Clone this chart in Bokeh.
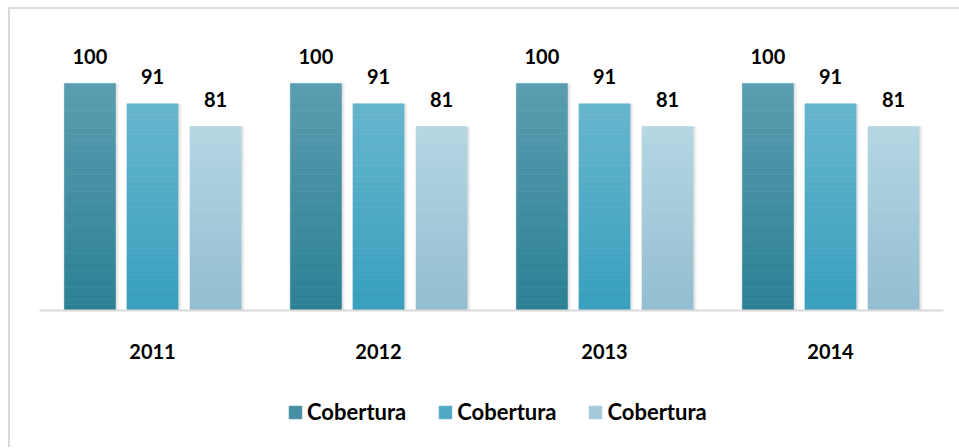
from bokeh.plotting import figure
from bokeh.models import (ColumnDataSource, FactorRange, Range1d, Legend, LegendItem)
from bokeh.layouts import column
from bokeh.transform import dodge
from bokeh.core.properties import value
from bokeh.embed import file_html
from bokeh.resources import INLINE

# ---- data ----
years = ["2011", "2012", "2013", "2014"]
series_names = ["Cobertura", "Cobertura", "Cobertura"]
serie1 = [100, 100, 100, 100]
serie2 = [91, 91, 91, 91]
serie3 = [81, 81, 81, 81]

# gradient colours (bottom, top) per series
grad = [((0x2c, 0x80, 0x94), (0x5a, 0x9d, 0xb0)),
        ((0x37, 0x9f, 0xbd), (0x66, 0xb5, 0xcd)),
        ((0x93, 0xbd, 0xd0), (0xb4, 0xd7, 0xe3))]
offsets = [-0.277, 0.0, 0.279]
bar_w = 0.226
N = 40

FONT = "Lato"

p = figure(x_range=FactorRange(*years, range_padding=0), y_range=Range1d(0, 123.3),
           width=949, height=371, output_backend="svg", toolbar_location=None,
           min_border_left=29, min_border_right=16, min_border_top=21, min_border_bottom=70)
p.outline_line_color = None
p.background_fill_color = "white"
p.border_fill_color = "white"
p.grid.visible = False
p.yaxis.visible = False

xa = p.xaxis[0]
xa.axis_line_color = "#d9d9d9"
xa.axis_line_width = 2
xa.major_tick_line_color = None
xa.minor_tick_line_color = None
xa.major_tick_out = 0
xa.major_label_standoff = 33
xa.major_label_text_font = FONT
xa.major_label_text_font_style = "bold"
xa.major_label_text_font_size = "20px"
xa.major_label_text_color = "#000000"

# legend strip below the chart
p2 = figure(x_range=Range1d(0, 1), y_range=Range1d(1000, 1001), width=949, height=67,
            output_backend="svg", toolbar_location=None,
            min_border_left=0, min_border_right=0, min_border_top=0, min_border_bottom=0)
p2.outline_line_color = None
p2.axis.visible = False
p2.grid.visible = False
p2.background_fill_color = "white"
p2.border_fill_color = "white"

def hexc(c):
    return "#%02x%02x%02x" % tuple(int(round(v)) for v in c)

legend_renderers = []
for si, vals in enumerate([serie1, serie2, serie3]):
    off = offsets[si]
    # soft shadow
    sh = ColumnDataSource(dict(x=years, top=vals))
    p.vbar(x=dodge("x", off + 0.012, range=p.x_range), top="top", width=bar_w + 0.006,
           source=sh, fill_color="#000000", fill_alpha=0.05, line_color=None)
    p.vbar(x=dodge("x", off + 0.006, range=p.x_range), top="top", width=bar_w + 0.006,
           source=sh, fill_color="#000000", fill_alpha=0.06, line_color=None)
    xs, bots, tops, cols = [], [], [], []
    c0, c1 = grad[si]
    for k in range(N):
        t = (k + 0.5) / N
        col = tuple(c0[j] + (c1[j] - c0[j]) * t for j in range(3))
        for yi, y in enumerate(years):
            xs.append(y)
            bots.append(vals[yi] * k / N)
            tops.append(vals[yi] * (k + 1) / N)
            cols.append(hexc(col))
    src = ColumnDataSource(dict(x=xs, bottom=bots, top=tops, color=cols))
    p.vbar(x=dodge("x", off, range=p.x_range), bottom="bottom", top="top", width=bar_w,
           source=src, fill_color="color", line_color="color", line_width=0.6)
    # same bars in the legend strip (outside its visible range) to feed the legend
    r2 = p2.vbar(x=dodge("x", off, range=p.x_range), bottom="bottom", top="top", width=bar_w,
                 source=src, fill_color="color", line_color="color", line_width=0.6)
    legend_renderers.append(r2)
    lab = ColumnDataSource(dict(x=years, y=vals, t=[str(v) for v in vals]))
    p.text(x=dodge("x", off, range=p.x_range), y="y", text="t", source=lab,
           text_font=value(FONT), text_font_style="bold", text_font_size="20px",
           text_color="#000000", text_align="center", text_baseline="alphabetic",
           y_offset=-27)

items = [LegendItem(label=series_names[i], renderers=[legend_renderers[i]], index=N * 4 // 2)
         for i in range(3)]
legend = Legend(items=items, orientation="horizontal", location=(248, 22),
                glyph_width=16, glyph_height=16, label_standoff=4, spacing=31,
                label_text_font=FONT, label_text_font_style="bold",
                label_text_font_size="22px", label_text_color="#000000",
                background_fill_alpha=0, border_line_color=None,
                padding=0, margin=0)
p2.add_layout(legend, "center")

layout = column(p, p2, spacing=0,
                styles={"margin-left": "8px", "margin-top": "7px",
                        "border-left": "2px solid #d9d9d9",
                        "border-top": "2px solid #d9d9d9"})

open("out.html", "w").write(file_html(layout, INLINE))
